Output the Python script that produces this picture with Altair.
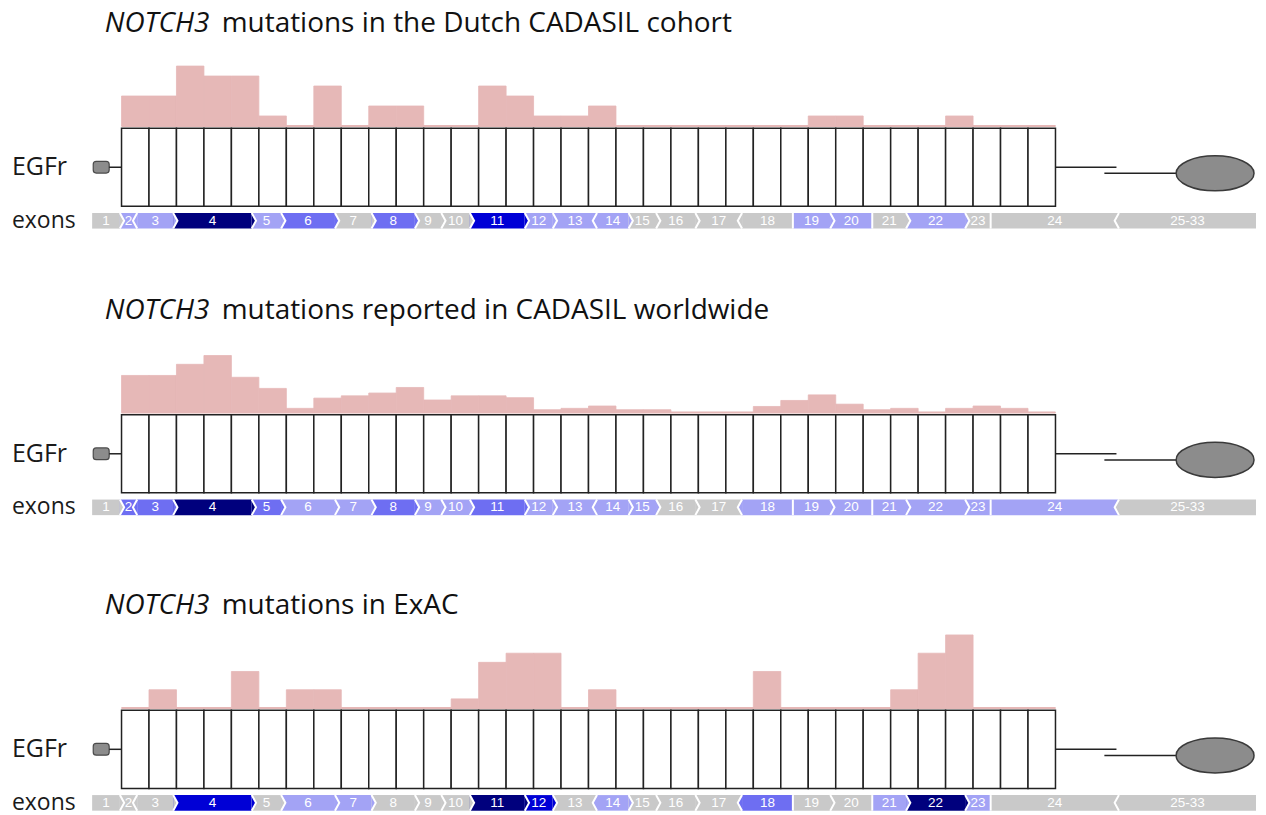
import altair as alt
import pandas as pd

# ---------------- data ----------------
n_egfr = 34  # EGF-like repeats in NOTCH3

# mutation distribution per EGFr
dutch_counts = [3, 3, 6, 5, 5, 1, 0, 4, 0, 2, 2, 0, 0, 4, 3, 1, 1, 2, 0, 0, 0, 0, 0, 0, 0, 1, 1, 0, 0, 0, 1, 0, 0, 0]
world_pct = [8.0, 8.0, 10.4, 12.3, 7.6, 5.2, 0.9, 3.1, 3.6, 4.2, 5.4, 2.7, 3.6, 3.6, 3.2, 0.6, 0.9, 1.4,
             0.6, 0.6, 0, 0, 0, 1.3, 2.6, 3.8, 1.8, 0.6, 0.9, 0, 0.9, 1.4, 0.9, 0]
exac_counts = [0, 1, 0, 0, 2, 0, 1, 1, 0, 0, 0, 0, 0.5, 2.5, 3, 3, 0, 1, 0, 0, 0, 0, 0, 2, 0, 0, 0, 0, 1, 3, 4, 0, 0, 0]

# exons mapped onto the EGFr axis (edges in EGFr units)
exon_labels = [str(i) for i in range(1, 25)] + ["25-33"]
exon_edges = [-1.07, -0.06, 0.57, 1.88, 4.74, 5.81, 7.77, 9.10, 10.68, 11.64, 12.68, 14.68, 15.70,
              17.31, 18.46, 19.46, 20.89, 22.59, 24.44, 25.80, 27.33, 28.56, 30.71, 31.64, 36.31, 41.30]
# shape of the junction between exon i and i+1 (">" right chevron, "<" left chevron, "|" flat)
exon_joins = [">", "<", ">", ">", ">", ">", ">", ">", ">", ">", ">", ">", "<", ">", ">", ">", "<",
              "|", ">", "|", ">", ">", "|", "<"]

# exon mutation burden level: g none, l low, m medium, b high, n highest
dutch_exon_level = ["g", "l", "l", "n", "l", "m", "g", "m", "g", "g", "b", "l", "l", "l", "g", "g", "g",
                    "g", "l", "l", "g", "l", "g", "g", "g"]
world_exon_level = ["g", "m", "m", "n", "m", "l", "l", "m", "l", "l", "m", "l", "l", "l", "l", "g", "g",
                    "l", "l", "l", "l", "l", "l", "l", "g"]
exac_exon_level = ["g", "g", "g", "b", "g", "l", "l", "g", "g", "g", "n", "b", "g", "l", "g", "g", "g",
                   "m", "g", "g", "l", "n", "l", "g", "g"]

panel_titles = [
    ("NOTCH3", "mutations in the Dutch CADASIL cohort"),
    ("NOTCH3", "mutations reported in CADASIL worldwide"),
    ("NOTCH3", "mutations in ExAC"),
]

# ---------------- style ----------------
LEVEL_COLOR = {"g": "#c9c9c9", "l": "#a3a3f5", "m": "#6e6ef2", "b": "#0000d6", "n": "#00007d"}
PINK = "#e6b8b7"
W = 1250
XDOM = [-4.133, 41.30]

HB = 117.5          # histogram baseline (px in panel)
BT, BB = 119.7, 198.0   # EGFr boxes top / bottom
ET, EB = 204.7, 220.3   # exon row top / bottom

CHEV = 243
PATH_R_FILL = "M0,-1L0.55,0L0,1Z"
PATH_L_FILL = "M0,-1L-0.55,0L0,1Z"
PATH_R = "M0,-1L0.55,0L0,1"
PATH_L = "M0,-1L-0.55,0L0,1"
PATH_FLAT = "M0,-1L0,1"
ELLIPSE = ("M-1,0C-1,-0.2485 -0.5523,-0.45 0,-0.45C0.5523,-0.45 1,-0.2485 1,0"
           "C1,0.2485 0.5523,0.45 0,0.45C-0.5523,0.45 -1,0.2485 -1,0Z")


def X(field):
    return alt.X(field, type="quantitative", axis=None,
                 scale=alt.Scale(domain=XDOM, nice=False, zero=False))


def Yband(field, top, bottom):
    # 0 = top edge of the band, 1 = bottom edge
    return alt.Y(field, type="quantitative", axis=None,
                 scale=alt.Scale(domain=[0, 1], range=[top, bottom], nice=False, zero=False))


def panel(values, ymax, ppu, levels, title, ph):
    layers = []
    # title
    tdf = pd.DataFrame({"x": [-0.61], "t": [title[0]]})
    layers.append(alt.Chart(tdf).mark_text(align="left", baseline="middle", font="Open Sans",
                                           fontSize=28, fontStyle="italic", color="#111111")
                  .encode(x=X("x"), y=alt.value(15.5), text="t:N"))
    rdf = pd.DataFrame({"x": [3.646], "t": [title[1]]})
    layers.append(alt.Chart(rdf).mark_text(align="left", baseline="middle", font="Open Sans",
                                           fontSize=28, color="#111111")
                  .encode(x=X("x"), y=alt.value(15.5), text="t:N"))

    # histogram
    hscale = alt.Scale(domain=[0, ymax], range=[HB, HB - ymax * ppu], nice=False, zero=False)
    hdf = pd.DataFrame({"s": list(range(n_egfr)), "e": list(range(1, n_egfr + 1)),
                        "v": values, "z": [0] * n_egfr})
    layers.append(alt.Chart(hdf).mark_rect(color=PINK, stroke=PINK, strokeWidth=0.8)
                  .encode(x=X("s"), x2="e:Q",
                          y=alt.Y("v:Q", scale=hscale, axis=None), y2="z:Q"))
    bdf = pd.DataFrame({"s": [0], "e": [n_egfr], "z": [0]})
    layers.append(alt.Chart(bdf).mark_rule(color=PINK, strokeWidth=2)
                  .encode(x=X("s"), x2="e:Q", y=alt.Y("z:Q", scale=hscale, axis=None)))

    # EGFr boxes
    box = pd.DataFrame({"s": list(range(n_egfr)), "e": list(range(1, n_egfr + 1)),
                        "y0": [0] * n_egfr, "y1": [1] * n_egfr})
    layers.append(alt.Chart(box).mark_rect(fill="white", stroke="#222222", strokeWidth=1.5)
                  .encode(x=X("s"), x2="e:Q", y=Yband("y0", BT, BB), y2="y1:Q"))
    # signal peptide, linkers, transmembrane/intracellular part
    sig = pd.DataFrame({"s": [-1.03], "e": [-0.45], "y0": [0.425], "y1": [0.575]})
    layers.append(alt.Chart(sig).mark_rect(fill="#8c8c8c", stroke="#4a4a4a", strokeWidth=1.2,
                                           cornerRadius=3)
                  .encode(x=X("s"), x2="e:Q", y=Yband("y0", BT, BB), y2="y1:Q"))
    links = pd.DataFrame({"s": [-0.45, n_egfr, 35.78], "e": [0, 36.22, 38.42], "y": [0.5, 0.5, 0.578]})
    layers.append(alt.Chart(links).mark_rule(color="#222222", strokeWidth=1.5)
                  .encode(x=X("s"), x2="e:Q", y=Yband("y", BT, BB)))
    ell = pd.DataFrame({"x": [39.81], "y": [0.578]})
    layers.append(alt.Chart(ell).mark_point(shape=ELLIPSE, filled=True, fill="#8c8c8c",
                                            stroke="#3a3a3a", strokeWidth=1.5, size=6084, opacity=1)
                  .encode(x=X("x"), y=Yband("y", BT, BB)))
    lab = pd.DataFrame({"x": [-3.99], "y": [0.5], "t": ["EGFr"]})
    layers.append(alt.Chart(lab).mark_text(align="left", baseline="middle", font="Open Sans",
                                           fontSize=25, color="#1a1a1a")
                  .encode(x=X("x"), y=Yband("y", BT, BB), text="t:N"))

    # exons
    cols = [LEVEL_COLOR[l] for l in levels]
    ex = pd.DataFrame({"s": exon_edges[:-1], "e": exon_edges[1:], "y0": [0] * 25, "y1": [1] * 25,
                       "c": cols, "t": exon_labels,
                       "m": [(a + b) / 2 for a, b in zip(exon_edges[:-1], exon_edges[1:])],
                       "ym": [0.5] * 25})
    layers.append(alt.Chart(ex).mark_rect()
                  .encode(x=X("s"), x2="e:Q", y=Yband("y0", ET, EB), y2="y1:Q",
                          color=alt.Color("c:N", scale=None)))
    jr = pd.DataFrame({"x": [exon_edges[i + 1] for i, j in enumerate(exon_joins) if j == ">"],
                       "c": [cols[i] for i, j in enumerate(exon_joins) if j == ">"]})
    jl = pd.DataFrame({"x": [exon_edges[i + 1] for i, j in enumerate(exon_joins) if j == "<"],
                       "c": [cols[i + 1] for i, j in enumerate(exon_joins) if j == "<"]})
    jf = pd.DataFrame({"x": [exon_edges[i + 1] for i, j in enumerate(exon_joins) if j == "|"]})
    for df in (jr, jl, jf):
        df["y"] = 0.5
    layers.append(alt.Chart(jr).mark_point(shape=PATH_R_FILL, filled=True, size=CHEV, opacity=1,
                                           strokeWidth=0)
                  .encode(x=X("x"), y=Yband("y", ET, EB), color=alt.Color("c:N", scale=None)))
    layers.append(alt.Chart(jl).mark_point(shape=PATH_L_FILL, filled=True, size=CHEV, opacity=1,
                                           strokeWidth=0)
                  .encode(x=X("x"), y=Yband("y", ET, EB), color=alt.Color("c:N", scale=None)))
    for df, path in ((jr, PATH_R), (jl, PATH_L), (jf, PATH_FLAT)):
        layers.append(alt.Chart(df).mark_point(shape=path, filled=False, stroke="white",
                                               strokeWidth=2, size=CHEV, opacity=1)
                      .encode(x=X("x"), y=Yband("y", ET, EB)))
    layers.append(alt.Chart(ex).mark_text(align="center", baseline="middle", font="Liberation Sans",
                                          fontSize=13.5, color="white")
                  .encode(x=X("m"), y=Yband("ym", ET, EB), text="t:N"))
    elab = pd.DataFrame({"x": [-3.99], "y": [0.5], "t": ["exons"]})
    layers.append(alt.Chart(elab).mark_text(align="left", baseline="middle", font="Open Sans",
                                            fontSize=23, color="#1a1a1a")
                  .encode(x=X("x"), y=Yband("y", ET, EB), text="t:N"))

    return alt.layer(*layers).resolve_scale(y="independent").properties(width=W, height=ph)


p1 = panel(dutch_counts, 6, 10.0, dutch_exon_level, panel_titles[0], 286.3)
p2 = panel(world_pct, 12.3, 4.64, world_exon_level, panel_titles[1], 296.0)
p3 = panel(exac_counts, 4, 18.3, exac_exon_level, panel_titles[2], 224.0)

chart = (alt.vconcat(p1, p2, p3, spacing=0, bounds="flush")
         .properties(padding=0)
         .configure_view(strokeWidth=0))

chart.save("out.html", embed_options={"renderer": "svg", "actions": False})
